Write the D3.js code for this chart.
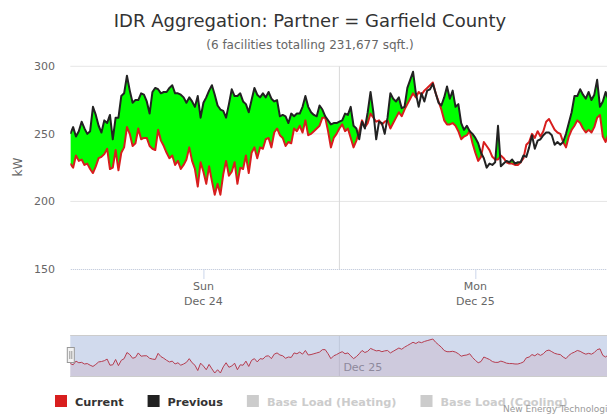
<!DOCTYPE html>
<html>
<head>
<meta charset="utf-8">
<script src="https://cdn.jsdelivr.net/npm/d3@7/dist/d3.min.js"></script>
<style>
  html, body { margin: 0; padding: 0; background: #fff; overflow: hidden; }
  svg { display: block; font-family: "DejaVu Sans", "Lucida Grande", sans-serif; }
</style>
</head>
<body>
<script>
// 15 minute readings (kW), Dec 24 00:15 -> Dec 26 00:00
var current = [
  228,225,234,230,231,227,228,224,221,226,232,233,235,239,224,225,238,223,236,240,255,250,241,243,254,246,247,247,241,239,238,
  253,245,241,236,232,234,227,230,224,227,231,240,230,224,211,229,222,213,226,215,205,213,205,220,230,219,222,229,213,225,224,234,
  221,236,240,232,240,239,246,247,240,251,254,249,247,241,244,243,254,252,256,251,260,249,250,252,254,256,262,262,252,240,247,250,
  254,257,252,254,247,240,245,252,260,255,258,265,262,259,260,257,259,260,254,258,262,266,263,268,272,276,280,277,281,279,282,284,
  286,288,280,274,268,260,257,257,258,256,252,246,248,249,252,243,236,230,233,244,241,238,233,231,231,234,232,229,228,228,227,227,
  229,232,242,244,250,247,252,248,252,259,261,257,253,251,250,244,240,248,253,256,260,258,254,251,253,251,255,262,264,248,244,250,252
];
var previous = [
  250,255,248,252,259,254,250,252,270,264,256,251,260,258,264,246,262,262,278,280,293,282,273,275,275,280,279,274,265,281,284,
  283,280,281,281,284,286,280,280,279,277,273,277,274,270,278,262,273,277,282,286,279,271,268,267,262,272,283,278,278,280,274,272,
  266,275,284,279,277,280,277,281,276,274,275,263,264,263,258,265,263,265,265,270,278,270,266,264,263,271,268,263,260,257,258,258,
  259,260,265,264,270,256,254,246,259,254,266,281,266,246,259,258,250,262,280,276,274,277,269,270,284,290,296,280,270,280,274,282,
  283,287,280,273,271,277,285,276,282,270,272,258,253,256,252,250,247,243,236,232,225,228,227,229,256,226,228,230,229,231,228,229,
  229,234,233,240,249,239,245,246,249,251,251,249,242,244,242,244,250,258,266,278,278,283,279,276,281,275,279,290,270,274,281,275,272
];
var yTicks = [150, 200, 250, 300];
var dayTicks = [new Date(2017, 11, 24, 12), new Date(2017, 11, 25, 12)];
var dayNames = ["Sun", "Mon"];
var dayLabels = ["Dec 24", "Dec 25"];
var midnights = [new Date(2017, 11, 25, 0)];
var navLabels = ["Dec 25"];
var legendNames = ["Current", "Previous", "Base Load (Heating)", "Base Load (Cooling)"];
var legendColors = ["#d81e1e", "#222222", "#cccccc", "#cccccc"];
var legendVisible = [true, true, false, false];

var start = new Date(2017, 11, 24, 0, 15);
var times = current.map(function(d, i) { return new Date(+start + i * 15 * 60000); });
var rows = current.map(function(d, i) { return {t: times[i], cur: d, prev: previous[i]}; });

var W = 620, H = 414;
var plot = {left: 70.3, right: 611.3, top: 66.3, bottom: 269};

var svg = d3.select("body").append("svg")
    .attr("width", W)
    .attr("height", H);

// title + subtitle
svg.append("text")
    .attr("x", W / 2).attr("y", 27)
    .attr("text-anchor", "middle")
    .style("font-size", "18px").style("fill", "#333")
    .text("IDR Aggregation: Partner = Garfield County");
svg.append("text")
    .attr("x", W / 2).attr("y", 49)
    .attr("text-anchor", "middle")
    .style("font-size", "12px").style("fill", "#666")
    .text("(6 facilities totalling 231,677 sqft.)");

var x = d3.scaleTime().domain([times[0], times[times.length - 1]]).range([plot.left, plot.right]);
var y = d3.scaleLinear().domain([150, 300]).range([plot.bottom, plot.top]);

// grid lines
svg.append("g")
  .selectAll("line")
  .data(yTicks.filter(function(d) { return d > 150; }))
  .enter().append("line")
    .attr("x1", plot.left).attr("x2", plot.right)
    .attr("y1", function(d) { return y(d); }).attr("y2", function(d) { return y(d); })
    .style("stroke", "#e6e6e6");

svg.append("g")
  .selectAll("line")
  .data(midnights)
  .enter().append("line")
    .attr("x1", function(d) { return x(d); }).attr("x2", function(d) { return x(d); })
    .attr("y1", plot.top).attr("y2", plot.bottom)
    .style("stroke", "#d8d8d8");

// y labels
svg.append("g")
  .selectAll("text")
  .data(yTicks)
  .enter().append("text")
    .attr("x", 55)
    .attr("y", function(d) { return y(d) + 4; })
    .attr("text-anchor", "end")
    .style("font-size", "11px").style("fill", "#666")
    .text(function(d) { return d; });

svg.append("text")
    .attr("transform", "translate(22,167) rotate(-90)")
    .attr("text-anchor", "middle")
    .style("font-size", "12px").style("fill", "#666")
    .text("kW");

// clip for plot area
svg.append("defs").append("clipPath").attr("id", "plotClip")
  .append("rect")
    .attr("x", plot.left).attr("y", plot.top - 5)
    .attr("width", plot.right - plot.left).attr("height", plot.bottom - plot.top + 5);

// region above the current line, so the fill only shows where previous is higher
var aboveCurrent = d3.area()
    .x(function(d) { return x(d.t); })
    .y0(0)
    .y1(function(d) { return y(d.cur); });
svg.select("defs").append("clipPath").attr("id", "aboveCur")
  .append("path")
    .datum(rows)
    .attr("d", aboveCurrent);

var prevArea = d3.area()
    .x(function(d) { return x(d.t); })
    .y0(plot.bottom)
    .y1(function(d) { return y(d.prev); });

var plotG = svg.append("g").attr("clip-path", "url(#plotClip)");

plotG.append("g").attr("clip-path", "url(#aboveCur)")
  .append("path")
    .datum(rows)
    .attr("d", prevArea)
    .style("fill", "#00ff00");

var curLine = d3.line()
    .x(function(d) { return x(d.t); })
    .y(function(d) { return y(d.cur); });
var prevLine = d3.line()
    .x(function(d) { return x(d.t); })
    .y(function(d) { return y(d.prev); });

plotG.append("path")
    .datum(rows)
    .attr("d", curLine)
    .style("fill", "none")
    .style("stroke", legendColors[0])
    .style("stroke-width", 2)
    .style("stroke-linejoin", "round");

plotG.append("path")
    .datum(rows)
    .attr("d", prevLine)
    .style("fill", "none")
    .style("stroke", legendColors[1])
    .style("stroke-width", 2)
    .style("stroke-linejoin", "round");

// x axis
var xAxis = svg.append("g")
    .attr("transform", "translate(0," + plot.bottom + ")")
    .call(d3.axisBottom(x).tickValues(dayTicks).tickSize(10).tickSizeOuter(0).tickFormat(""));
xAxis.select(".domain").style("stroke", "#b8c2d6").style("stroke-dasharray", "1,1");
xAxis.selectAll(".tick line").style("stroke", "#ccd6eb");

var dayLab = svg.append("g")
  .selectAll("text")
  .data(dayTicks)
  .enter().append("text")
    .attr("text-anchor", "middle")
    .style("font-size", "11px").style("fill", "#666");
dayLab.append("tspan")
    .attr("x", function(d) { return x(d); }).attr("y", 290)
    .text(function(d, i) { return dayNames[i]; });
dayLab.append("tspan")
    .attr("x", function(d) { return x(d); }).attr("y", 305)
    .text(function(d, i) { return dayLabels[i]; });

// navigator
var nav = {top: 335, bottom: 377};
var yNav = d3.scaleLinear().domain(d3.extent(current)).range([373, 339]);

svg.append("rect")
    .attr("x", plot.left).attr("y", nav.top)
    .attr("width", plot.right - plot.left).attr("height", nav.bottom - nav.top)
    .style("fill", "#fff");

svg.append("g")
  .selectAll("line")
  .data(midnights)
  .enter().append("line")
    .attr("x1", function(d) { return x(d); }).attr("x2", function(d) { return x(d); })
    .attr("y1", nav.top).attr("y2", nav.bottom)
    .style("stroke", "#e6e6e6");

svg.append("g")
  .selectAll("text")
  .data(midnights)
  .enter().append("text")
    .attr("x", function(d) { return x(d) + 4; })
    .attr("y", 371)
    .style("font-size", "11px").style("fill", "#999")
    .text(function(d, i) { return navLabels[i]; });

var navArea = d3.area()
    .x(function(d) { return x(d.t); })
    .y0(nav.bottom)
    .y1(function(d) { return yNav(d.cur); });
var navLine = d3.line()
    .x(function(d) { return x(d.t); })
    .y(function(d) { return yNav(d.cur); });

svg.append("path").datum(rows).attr("d", navArea)
    .style("fill", legendColors[0]).style("fill-opacity", 0.1);
svg.append("path").datum(rows).attr("d", navLine)
    .style("fill", "none").style("stroke", legendColors[0]).style("stroke-width", 1);

// selected range mask covers the whole span
svg.append("rect")
    .attr("x", plot.left).attr("y", nav.top)
    .attr("width", plot.right - plot.left).attr("height", nav.bottom - nav.top)
    .style("fill", "rgba(102,133,194,0.3)");
svg.append("line")
    .attr("x1", plot.left).attr("x2", plot.right)
    .attr("y1", nav.top + 0.5).attr("y2", nav.top + 0.5)
    .style("stroke", "#cccccc");
svg.append("line")
    .attr("x1", plot.left).attr("x2", plot.right)
    .attr("y1", nav.bottom - 0.5).attr("y2", nav.bottom - 0.5)
    .style("stroke", "#cccccc");

// left handle
var hx = plot.left - 3.5;
svg.append("rect")
    .attr("x", hx + 0.5).attr("y", 347.5).attr("width", 7).attr("height", 15)
    .style("fill", "#f2f2f2").style("stroke", "#999");
svg.append("line").attr("x1", hx + 3).attr("x2", hx + 3).attr("y1", 351).attr("y2", 359).style("stroke", "#999");
svg.append("line").attr("x1", hx + 5).attr("x2", hx + 5).attr("y1", 351).attr("y2", 359).style("stroke", "#999");

// legend
var lx = 55;
legendNames.forEach(function(name, i) {
  var g = svg.append("g");
  g.append("rect")
      .attr("x", lx).attr("y", 395).attr("width", 12).attr("height", 12)
      .style("fill", legendColors[i]);
  var t = g.append("text")
      .attr("x", lx + 20).attr("y", 405.5)
      .style("font-size", "11.3px").style("font-weight", "bold")
      .style("fill", legendVisible[i] ? "#333" : "#cccccc")
      .text(name);
  lx = lx + 20 + t.node().getComputedTextLength() + 24;
});

// credits
svg.append("text")
    .attr("x", 503).attr("y", 412)
    .style("font-size", "9px").style("fill", "#999")
    .text("New Energy Technologies");
</script>
</body>
</html>
